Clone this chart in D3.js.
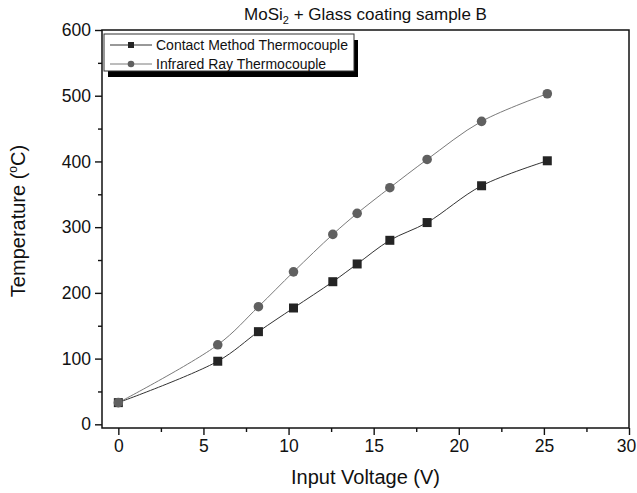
<!DOCTYPE html>
<html>
<head>
<meta charset="utf-8">
<script src="https://cdn.jsdelivr.net/npm/d3@7"></script>
<style>
  body { margin: 0; background: #fff; }
  svg { font-family: Arial, "Liberation Sans", sans-serif; }
</style>
</head>
<body>
<div id="chart"></div>
<script>
// data
const voltage = [0, 5.84, 8.23, 10.29, 12.6, 14.03, 15.95, 18.14, 21.34, 25.2];
const contactTemp = [33, 96, 141, 177, 217, 244, 280, 307, 363, 401];
const infraredTemp = [33, 121, 179, 232, 289, 321, 360, 403, 461, 503];
const xTicks = [0, 5, 10, 15, 20, 25, 30];
const yTicks = [0, 100, 200, 300, 400, 500, 600];
const seriesNames = ["Contact Method Thermocouple", "Infrared Ray Thermocouple"];

let width = 637, height = 493;
let margin = {top: 30, right: 8, bottom: 65, left: 102};
let innerW = width - margin.left - margin.right;
let innerH = height - margin.top - margin.bottom;

let svg = d3.select("#chart").append("svg")
    .attr("width", width)
    .attr("height", height);

let g = svg.append("g")
    .attr("transform", `translate(${margin.left}, ${margin.top})`);

let x = d3.scaleLinear().domain([-0.96, 30]).range([0, innerW]);
let y = d3.scaleLinear().domain([-5.6, 600]).range([innerH, 0]);

// frame
g.append("rect")
    .attr("width", innerW)
    .attr("height", innerH)
    .attr("fill", "none")
    .attr("stroke", "#111")
    .attr("stroke-width", 1.5);

// x axis, major + minor ticks
let xAxis = g.append("g").attr("transform", `translate(0, ${innerH})`);
xAxis.call(d3.axisBottom(x).tickValues(xTicks).tickSize(7).tickPadding(5).tickFormat(d3.format("d")));
xAxis.append("g").call(d3.axisBottom(x).tickValues(d3.range(2.5, 30, 5)).tickSize(4).tickFormat(""));
// last label sits on the window edge, nudge it in
xAxis.selectAll(".tick text").filter(d => d === 30).attr("dx", -3);

let yAxis = g.append("g");
yAxis.call(d3.axisLeft(y).tickValues(yTicks).tickSize(7).tickPadding(4).tickFormat(d3.format("d")));
yAxis.append("g").call(d3.axisLeft(y).tickValues(d3.range(50, 600, 100)).tickSize(4).tickFormat(""));

svg.selectAll(".domain").remove();
svg.selectAll(".tick line").attr("stroke", "#111").attr("stroke-width", 1.4);
svg.selectAll(".tick text").attr("font-size", 17.5).attr("fill", "#111");

// title
let title = svg.append("text")
    .attr("x", margin.left + innerW / 2)
    .attr("y", 20)
    .attr("text-anchor", "middle")
    .attr("font-size", 17)
    .attr("fill", "#111");
title.append("tspan").text("MoSi");
title.append("tspan").attr("font-size", 11).attr("dy", 4).text("2");
title.append("tspan").attr("dy", -4).text(" + Glass coating sample B");

// axis labels
svg.append("text")
    .attr("x", margin.left + innerW / 2)
    .attr("y", 484)
    .attr("text-anchor", "middle")
    .attr("font-size", 20)
    .attr("fill", "#111")
    .text("Input Voltage (V)");

let yLab = svg.append("text")
    .attr("transform", `translate(25, ${margin.top + innerH / 2 - 8}) rotate(-90)`)
    .attr("text-anchor", "middle")
    .attr("font-size", 20)
    .attr("fill", "#111");
yLab.append("tspan").text("Temperature (");
yLab.append("tspan").attr("font-size", 12).attr("dy", -8).text("o");
yLab.append("tspan").attr("dy", 8).text("C)");

// lines
let line = d3.line()
    .x(d => x(d[0]))
    .y(d => y(d[1]))
    .curve(d3.curveCatmullRom.alpha(0.5));

let contactPts = voltage.map((v, i) => [v, contactTemp[i]]);
let infraredPts = voltage.map((v, i) => [v, infraredTemp[i]]);

g.append("path")
    .datum(infraredPts)
    .attr("d", line)
    .attr("fill", "none")
    .attr("stroke", "#7a7a7a")
    .attr("stroke-width", 1);

g.append("path")
    .datum(contactPts)
    .attr("d", line)
    .attr("fill", "none")
    .attr("stroke", "#333")
    .attr("stroke-width", 1);

// markers
g.selectAll(".sq")
    .data(contactPts)
    .enter().append("rect")
    .attr("class", "sq")
    .attr("x", d => x(d[0]) - 4.5)
    .attr("y", d => y(d[1]) - 4.5)
    .attr("width", 9)
    .attr("height", 9)
    .attr("fill", "#242424");

g.selectAll(".circ")
    .data(infraredPts)
    .enter().append("circle")
    .attr("class", "circ")
    .attr("cx", d => x(d[0]))
    .attr("cy", d => y(d[1]))
    .attr("r", 4.8)
    .attr("fill", "#606060");

// legend with drop shadow
let legend = svg.append("g").attr("transform", "translate(104, 34)");
legend.append("rect")
    .attr("x", 4).attr("y", 6)
    .attr("width", 250).attr("height", 37)
    .attr("fill", "#000");
legend.append("rect")
    .attr("width", 250).attr("height", 37)
    .attr("fill", "#fff")
    .attr("stroke", "#333")
    .attr("stroke-width", 1);

let legendColors = [["#333", "#242424"], ["#7a7a7a", "#606060"]];
seriesNames.forEach((name, i) => {
    let row = legend.append("g").attr("transform", `translate(0, ${11 + i * 19})`);
    row.append("line")
        .attr("x1", 6).attr("x2", 48)
        .attr("stroke", legendColors[i][0])
        .attr("stroke-width", 1);
    if (i === 0) {
        row.append("rect").attr("x", 24).attr("y", -3).attr("width", 6).attr("height", 6)
            .attr("fill", legendColors[i][1]);
    } else {
        row.append("circle").attr("cx", 27).attr("r", 3.3).attr("fill", legendColors[i][1]);
    }
    row.append("text")
        .attr("x", 52).attr("y", 5)
        .attr("font-size", 14)
        .attr("fill", "#111")
        .text(name);
});
</script>
</body>
</html>
